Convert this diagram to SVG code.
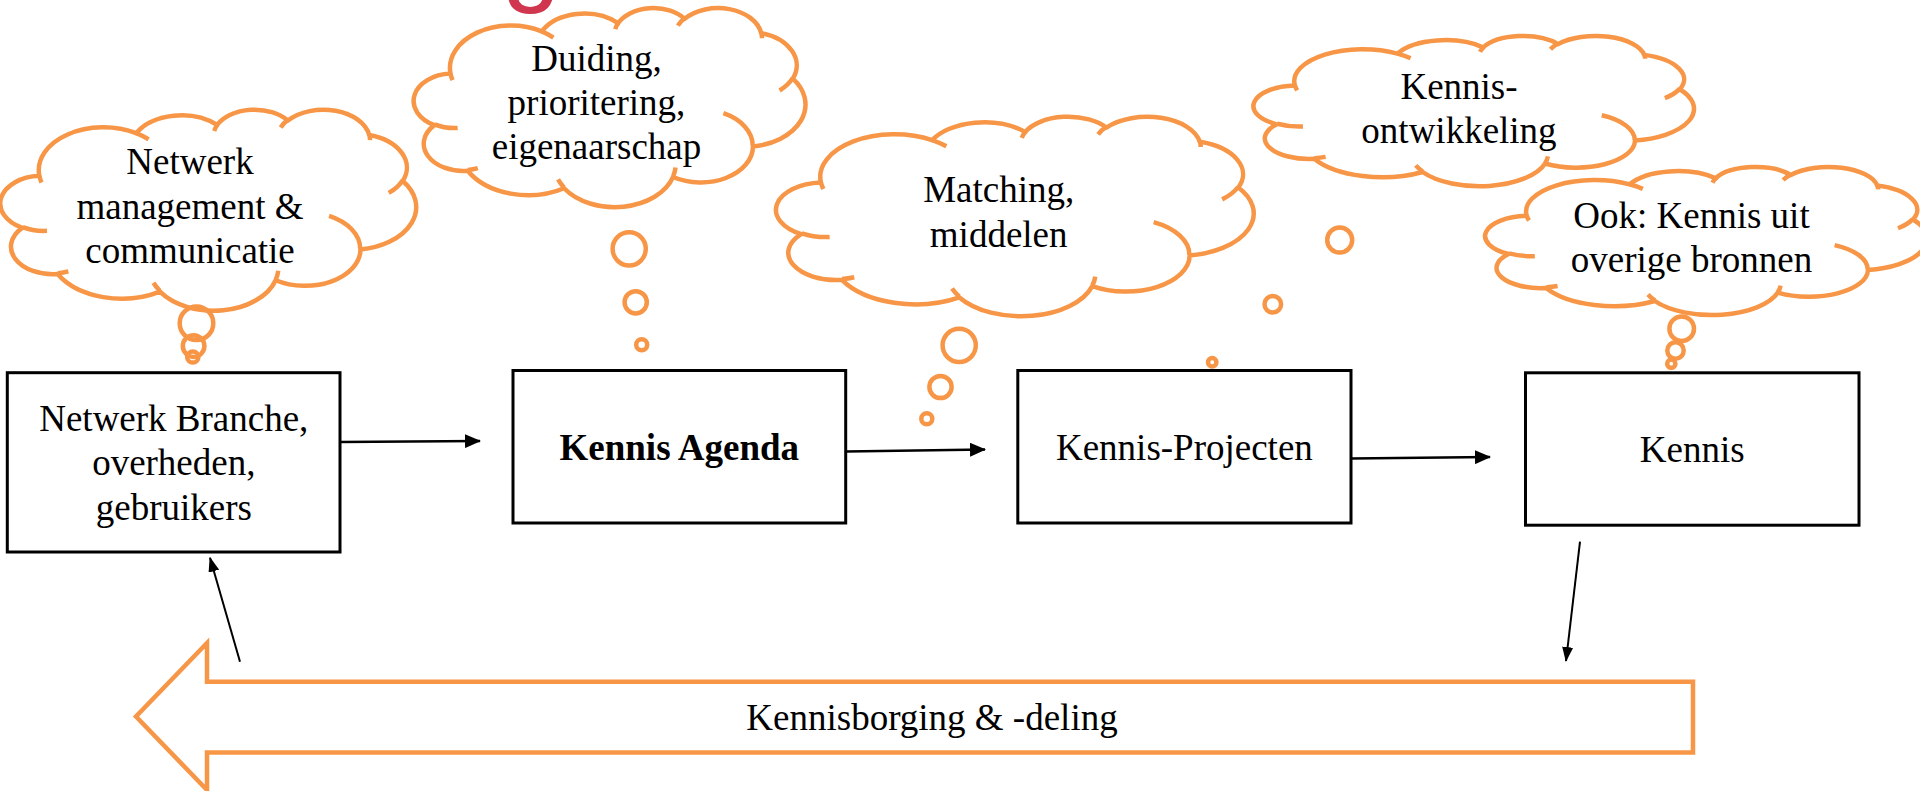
<svg xmlns="http://www.w3.org/2000/svg" xmlns:xlink="http://www.w3.org/1999/xlink" width="1920" height="791" viewBox="0 0 1920 791">
<style>
.cl{fill:#fff;stroke:#F79646;stroke-width:4.5;stroke-linejoin:round;}
.wr{fill:none;stroke:#F79646;stroke-width:4.5;stroke-linecap:butt;}
.bub{fill:none;stroke:#F79646;stroke-width:4.5;}
.box{fill:#fff;stroke:#000;stroke-width:3;}
.t{font-family:"Liberation Serif","Times New Roman",serif;font-size:37px;fill:#000;text-anchor:middle;}
.b{font-weight:bold;}
.con{stroke:#000;fill:none;}
</style>
<defs>
<marker id="ah" viewBox="0 0 16 14" refX="15" refY="7" markerWidth="16" markerHeight="14" markerUnits="userSpaceOnUse" orient="auto"><path d="M0,0 L16,7 L0,14 z" fill="#000"/></marker>
<marker id="ah2" viewBox="0 0 15 11" refX="14" refY="5.5" markerWidth="15" markerHeight="11" markerUnits="userSpaceOnUse" orient="auto"><path d="M0,0 L15,5.5 L0,11 z" fill="#000"/></marker>
<g id="cloud">
<path class="cl" vector-effect="non-scaling-stroke" d="M39.00,143.70 A67.53,91.90 0 0 1 140.06,52.02 A53.33,72.67 0 0 1 224.56,34.31 A43.65,59.45 0 0 1 298.34,24.79 A48.57,65.95 0 0 1 383.19,55.74 A53.33,72.73 0 0 1 418.19,154.58 A67.75,92.20 0 0 1 374.05,302.01 A57.85,78.67 0 0 1 285.56,368.11 A67.52,92.15 0 0 1 164.81,392.65 A77.20,105.43 0 0 1 58.05,354.70 A43.60,59.18 0 0 1 21.13,255.49 A43.45,59.45 0 0 1 39.00,143.70 Z"/>
<path class="wr" vector-effect="non-scaling-stroke" d="M46.93,261.77 A43.45,59.45 0 0 1 21.60,253.80 M69.28,348.99 A43.60,59.18 0 0 1 58.20,352.81 M164.78,390.90 A67.52,92.15 0 0 1 158.09,373.47 M288.27,347.51 A67.52,92.15 0 0 1 285.60,366.60 M341.29,229.54 A57.85,78.67 0 0 1 373.80,300.90 M417.98,153.54 A53.33,72.73 0 0 1 403.51,180.28 M383.24,54.26 A48.57,65.95 0 0 1 384.00,66.90 M290.78,39.52 A48.57,65.95 0 0 1 298.20,23.40 M221.41,47.20 A43.65,59.45 0 0 1 225.00,33.31 M140.00,51.92 A67.53,91.90 0 0 1 152.99,65.40 M41.27,157.89 A67.53,91.90 0 0 1 39.00,143.71"/>
</g>
</defs>
<rect width="1920" height="791" fill="#fff"/>
<text x="502" y="-8" font-family="Liberation Sans, Arial, sans-serif" font-size="105" fill="#D0364E">g</text>

<g id="cloud-netwerk">
<use xlink:href="#cloud" href="#cloud" transform="translate(2,109) scale(0.95833,0.46528)"/>
<circle class="bub" cx="196.5" cy="323.3" r="16.8"/>
<circle class="bub" cx="193.6" cy="346.1" r="10.8"/>
<circle class="bub" cx="192.8" cy="357" r="5.6"/>
<text class="t" x="190" y="174">Netwerk</text>
<text class="t" x="190" y="218.5">management &amp;</text>
<text class="t" x="190" y="263">communicatie</text>
</g>

<g id="cloud-duiding">
<use xlink:href="#cloud" href="#cloud" transform="translate(415.3,7.4) scale(0.90278,0.46065)"/>
<circle class="bub" cx="629.2" cy="248.8" r="16.6"/>
<circle class="bub" cx="635.7" cy="302.3" r="11.1"/>
<circle class="bub" cx="641.7" cy="344.7" r="5.5"/>
<text class="t" x="596.5" y="70.7">Duiding,</text>
<text class="t" x="596.5" y="115">prioritering,</text>
<text class="t" x="596.5" y="159.3">eigenaarschap</text>
</g>

<g id="cloud-matching">
<use xlink:href="#cloud" href="#cloud" transform="translate(778,116.1) scale(1.10069,0.46181)"/>
<circle class="bub" cx="959.2" cy="345.3" r="16.6"/>
<circle class="bub" cx="940.5" cy="387" r="11.1"/>
<circle class="bub" cx="926.8" cy="418.7" r="5.5"/>
<text class="t" x="998.7" y="201.7">Matching,</text>
<text class="t" x="998.7" y="246.5">middelen</text>
</g>

<g id="cloud-ontwikkeling">
<use xlink:href="#cloud" href="#cloud" transform="translate(1255.3,35.5) scale(1.01505,0.34769)"/>
<circle class="bub" cx="1339.7" cy="240" r="12.5"/>
<circle class="bub" cx="1272.8" cy="304.2" r="8.3"/>
<circle class="bub" cx="1212.2" cy="362.3" r="4.2"/>
<text class="t" x="1459" y="99">Kennis-</text>
<text class="t" x="1459" y="143.3">ontwikkeling</text>
</g>

<g id="cloud-bronnen">
<use xlink:href="#cloud" href="#cloud" transform="translate(1487,166.5) scale(1.01852,0.34259)"/>
<circle class="bub" cx="1681.7" cy="328.7" r="12.3"/>
<circle class="bub" cx="1675.5" cy="350.5" r="8.2"/>
<circle class="bub" cx="1671.3" cy="363.7" r="4.1"/>
<text class="t" x="1691.5" y="228.3">Ook: Kennis uit</text>
<text class="t" x="1691.5" y="271.7">overige bronnen</text>
</g>

<g id="node-netwerk">
<rect class="box" x="7.3" y="372.7" width="332.7" height="179.3"/>
<text class="t" x="173.8" y="430.7">Netwerk Branche,</text>
<text class="t" x="173.8" y="475.2">overheden,</text>
<text class="t" x="173.8" y="519.7">gebruikers</text>
</g>

<g id="node-agenda">
<rect class="box" x="513" y="370.5" width="332.7" height="152.5"/>
<text class="t b" x="679.3" y="460">Kennis Agenda</text>
</g>

<g id="node-projecten">
<rect class="box" x="1017.8" y="370.5" width="333.2" height="152.5"/>
<text class="t" x="1184.4" y="460">Kennis-Projecten</text>
</g>

<g id="node-kennis">
<rect class="box" x="1525.5" y="372.8" width="333.5" height="152.4"/>
<text class="t" x="1692.2" y="462.3">Kennis</text>
</g>

<g id="node-borging">
<path d="M1693,681.7 L207,681.7 L207,643 L136,716.5 L207,790 L207,752.5 L1693,752.5 Z" fill="#fff" stroke="#F79646" stroke-width="4.5" stroke-linejoin="miter"/>
<text class="t" x="932" y="730">Kennisborging &amp; -deling</text>
</g>

<g id="connectors">
<line class="con" stroke-width="2.5" x1="340" y1="442" x2="480" y2="441" marker-end="url(#ah)"/>
<line class="con" stroke-width="2.5" x1="846" y1="451.5" x2="985" y2="449.5" marker-end="url(#ah)"/>
<line class="con" stroke-width="2.5" x1="1351" y1="458.5" x2="1490" y2="457" marker-end="url(#ah)"/>
<line class="con" stroke-width="2" x1="1580" y1="541.7" x2="1566" y2="661" marker-end="url(#ah2)"/>
<line class="con" stroke-width="2" x1="240" y1="661.7" x2="210" y2="557.7" marker-end="url(#ah2)"/>
</g>
</svg>
